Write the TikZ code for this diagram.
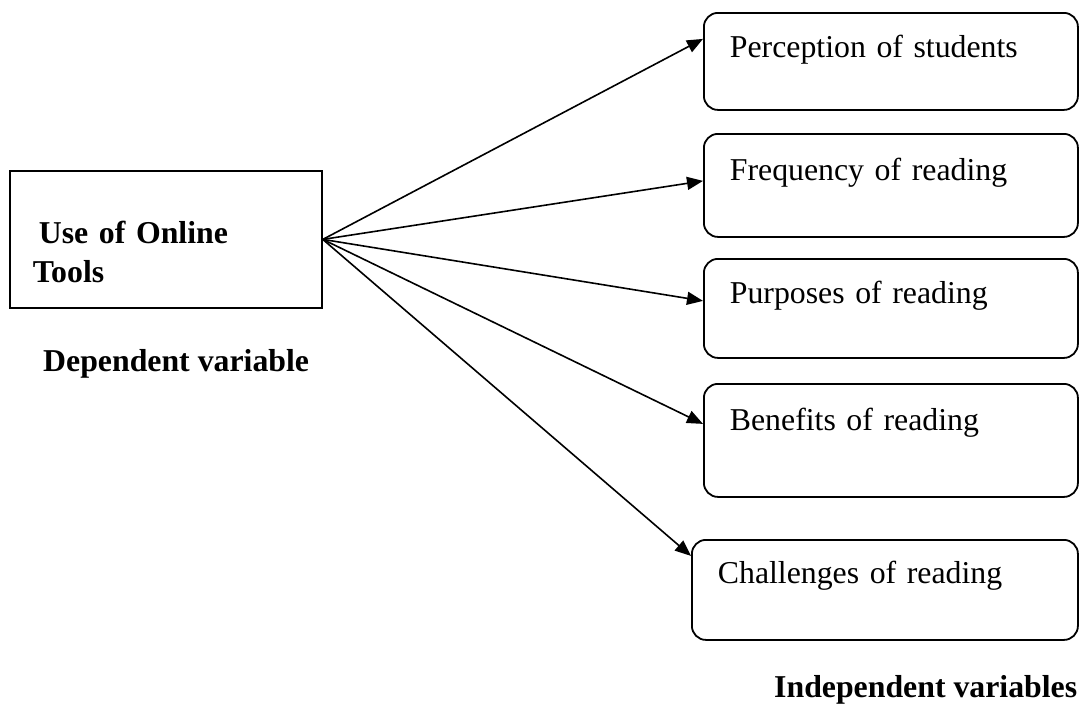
\documentclass[tikz,border=0pt]{standalone}
\usepackage{fontspec}
\setmainfont{Liberation Serif}
\usetikzlibrary{arrows.meta,positioning}
\tikzset{
  every node/.style={font=\fontsize{31.8}{39}\selectfont, text=black},
  depbox/.style={draw=black, line width=1.8pt, anchor=north west, inner xsep=23pt, inner ysep=0pt, text width=266pt, align=left},
  indbox/.style={draw=black, line width=1.8pt, rounded corners=14pt, anchor=north west, inner xsep=26pt, inner ysep=0pt, text width=322pt, align=left},
  caption/.style={font=\fontsize{31.8}{39}\selectfont\bfseries, anchor=base west, inner sep=0pt},
  link/.style={-{Triangle[length=16pt,width=13pt]}, draw=black, line width=1.6pt},
}
\begin{document}
\begin{tikzpicture}[x=1pt,y=-1pt]
  \useasboundingbox (0,0) rectangle (1079,710);
  % Dependent side
  \node[depbox, font=\fontsize{31.8}{39}\selectfont\bfseries, text height=73pt, text depth=64pt] (online) at (9,170)
    {\hspace*{6pt}Use of Online\\Tools};
  \node[caption] (deplabel) at (43,371) {Dependent variable};
  % Independent side
  \node[indbox, text height=45pt, text depth=52pt] (perception) at (703,12) {Perception of students};
  \node[indbox, text height=47pt, text depth=56pt] (frequency) at (703,133) {Frequency of reading};
  \node[indbox, text height=45pt, text depth=54pt] (purposes) at (703,258) {Purposes of reading};
  \node[indbox, text height=47pt, text depth=66pt] (benefits) at (703,383) {Benefits of reading};
  \node[indbox, text width=334pt, text height=44pt, text depth=56pt] (challenges) at (691,539) {Challenges of reading};
  \node[caption] (indlabel) at (774,697) {Independent variables};
  % Links
  \draw[link] (online.east) -- ([yshift=22.5pt]perception.west);
  \draw[link] (online.east) -- ([yshift=4.5pt]frequency.west);
  \draw[link] (online.east) -- ([yshift=7.5pt]purposes.west);
  \draw[link] (online.east) -- ([yshift=16.5pt]benefits.west);
  \draw[link] (online.east) -- ([yshift=34pt]challenges.west);
\end{tikzpicture}
\end{document}
